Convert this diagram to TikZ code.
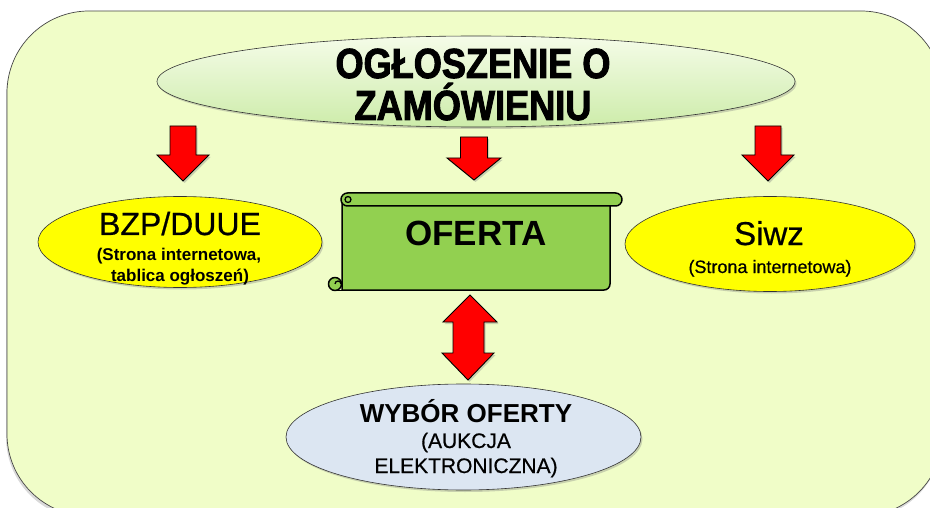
\documentclass[tikz,border=0pt]{standalone}
\usepackage{fontspec}
\setmainfont{Liberation Sans}
\newfontfamily\titlefont[FakeStretch=0.86,BoldFeatures={FakeBold=2.2}]{Liberation Sans}
\newfontfamily\semibold[FakeBold=0.6]{Liberation Sans}
\usetikzlibrary{shapes.geometric,shadows}
\definecolor{bgfill}{RGB}{240,253,200}
\definecolor{bgline}{RGB}{70,70,70}
\definecolor{titletop}{RGB}{245,252,232}
\definecolor{titlebot}{RGB}{205,236,170}
\definecolor{arrred}{RGB}{255,0,0}
\definecolor{scrollgreen}{RGB}{146,208,80}
\definecolor{ellyellow}{RGB}{255,255,0}
\definecolor{ellblue}{RGB}{220,230,242}
\begin{document}
\begin{tikzpicture}[x=1pt,y=-1pt,
  softshadow/.style={drop shadow={opacity=0.35,shadow xshift=1.5pt,shadow yshift=-2pt}},
  elly/.style={ellipse,draw=black!80,line width=0.6pt,inner sep=0pt,softshadow},
  blockarrow/.style={fill=arrred,draw=black,line width=0.9pt,line join=miter,softshadow},
  scrollpart/.style={fill=scrollgreen,draw=black,line width=1.5pt,line join=round},
  txt/.style={anchor=base,inner sep=0pt,align=center}]
\useasboundingbox (0,0) rectangle (930,508);
\clip (0,0) rectangle (930,508);
% background panel
\path[fill=bgfill,draw=bgline,line width=0.7pt,rounded corners=82pt,
  drop shadow={opacity=0.3,shadow xshift=-1pt,shadow yshift=-3pt}]
  (7,11) rectangle (943,516);
% title ellipse
\node[elly,top color=titletop,bottom color=titlebot,minimum width=638pt,minimum height=91pt] (ogl) at (476,81.5) {};
\node[txt,font=\titlefont\bfseries\fontsize{42}{42}\selectfont] (ogl1) at (473,78) {OGŁOSZENIE O};
\node[txt,font=\titlefont\bfseries\fontsize{42}{42}\selectfont] (ogl2) at (473,120) {ZAMÓWIENIU};
% down arrows
\path[blockarrow] (170,126) -- (196,126) -- (196,155) -- (209,155) -- (183,181) -- (157,155) -- (170,155) -- cycle;
\path[blockarrow] (460.5,137) -- (487.5,137) -- (487.5,158) -- (501,158) -- (474,180) -- (447,158) -- (460.5,158) -- cycle;
\path[blockarrow] (755,126) -- (781,126) -- (781,155) -- (794,155) -- (768,181) -- (742,155) -- (755,155) -- cycle;
% left ellipse
\node[elly,fill=ellyellow,minimum width=284pt,minimum height=91pt] (bzp) at (180,242) {};
\node[txt,font=\semibold\fontsize{32}{32}\selectfont] (bzp1) at (180,235) {BZP/DUUE};
\node[txt,font=\bfseries\fontsize{17}{17}\selectfont] (bzp2) at (179,261) {(Strona internetowa,};
\node[txt,font=\bfseries\fontsize{17}{17}\selectfont] (bzp3) at (180,281) {tablica ogłoszeń)};
% right ellipse
\node[elly,fill=ellyellow,minimum width=290pt,minimum height=95pt] (siwz) at (770,244) {};
\node[txt,font=\semibold\fontsize{33}{33}\selectfont] (siwz1) at (769,245) {Siwz};
\node[txt,font=\semibold\fontsize{18}{18}\selectfont] (siwz2) at (770,273) {(Strona internetowa)};
% scroll (oferta)
\path[scrollpart] (342,200) -- (342,290) -- (604,290) arc[start angle=90,end angle=0,radius=6] -- (610,200) -- cycle;
\path[scrollpart,rounded corners=6.5pt] (341,193) rectangle (622,206);
\path[scrollpart] (335,284) circle[radius=6.5];
\draw[black,line width=1.3pt] (335,284) arc[start angle=180,end angle=360,radius=3] ;
\draw[black,line width=1.3pt] (348,199.5) circle[radius=3];
\draw[black,line width=1.5pt] (335,290.5) -- (343,290.5);
\node[txt,font=\bfseries\fontsize{35}{35}\selectfont] (oferta) at (476,245) {OFERTA};
% double arrow
\path[blockarrow] (470,295) -- (497,322) -- (484,322) -- (484,353) -- (494,353) -- (468,380) -- (442,353) -- (453,353) -- (453,322) -- (443,322) -- cycle;
% bottom ellipse
\node[elly,fill=ellblue,minimum width=355pt,minimum height=106pt] (wyb) at (463.5,437) {};
\node[txt,font=\bfseries\fontsize{26}{26}\selectfont] (wyb1) at (466,422) {WYBÓR OFERTY};
\node[txt,font=\semibold\fontsize{21}{21}\selectfont] (wyb2) at (466,448) {(AUKCJA};
\node[txt,font=\semibold\fontsize{21}{21}\selectfont] (wyb3) at (466,473) {ELEKTRONICZNA)};
\end{tikzpicture}
\end{document}
